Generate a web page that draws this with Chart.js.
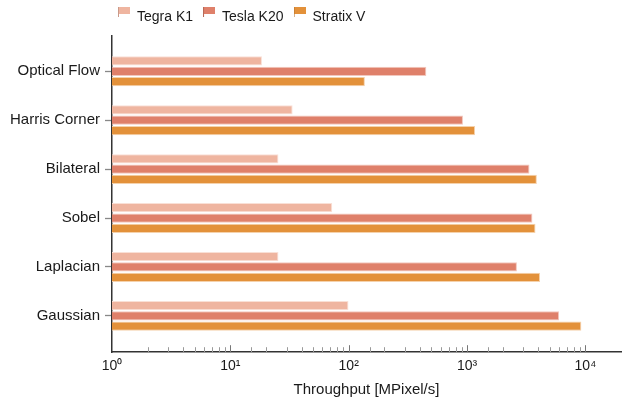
<!DOCTYPE html>
<html>
<head>
<meta charset="utf-8">
<script src="https://cdn.jsdelivr.net/npm/chart.js@4/dist/chart.umd.min.js"></script>
<style>
  html, body { margin: 0; padding: 0; background: #fff; }
  #wrap { width: 641px; height: 399px; }
</style>
</head>
<body>
<div id="wrap"><canvas id="chart" width="641" height="399"></canvas></div>
<script>
// data
const categories = ['Optical Flow', 'Harris Corner', 'Bilateral', 'Sobel', 'Laplacian', 'Gaussian'];
const seriesNames = ['Tegra K1', 'Tesla K20', 'Stratix V'];
const tegraK1 = [18.5, 33.6, 25.5, 72.6, 25.5, 99.6];
const teslaK20 = [453, 924, 3370, 3570, 2640, 6000];
const stratixV = [137, 1170, 3890, 3790, 4140, 9250];
const xTickPowers = [0, 1, 2, 3, 4];

const fills = ['#efb5a0', '#df806a', '#e3913a'];
const edges = ['#f9e0d6', '#f2c7bd', '#f5d2ac'];
const sticks = ['#c99a8a', '#b86a58', '#b87530'];
const sup = ['\u2070', '\u00b9', '\u00b2', '\u00b3', '\u2074'];
const FONT = '"Liberation Sans", Arial, Helvetica, sans-serif';

function flag(color, stick) {
  const c = document.createElement('canvas');
  c.width = 12; c.height = 20;
  const g = c.getContext('2d');
  g.fillStyle = color;
  g.fillRect(0, 0, 12, 7);
  g.fillStyle = stick;
  g.fillRect(0, 0, 1, 10);
  return c;
}
const flags = fills.map((f, i) => flag(f, sticks[i]));

function toPoints(arr) {
  return arr.map((v, i) => ({ x: v, y: i }));
}

// inward tick marks on the log axis, legend nudged up-left
const innerTicks = {
  id: 'innerTicks',
  afterLayout(chart) {
    chart.legend.left -= 4;
    chart.legend.right -= 4;
    chart.legend.top -= 2;
    chart.legend.bottom -= 2;
  },
  afterDraw(chart) {
    const sx = chart.scales.x;
    const ctx = chart.ctx;
    const bottom = chart.chartArea.bottom;
    ctx.save();
    sx.ticks.forEach(t => {
      if (t.value > 10000 || t.value <= 1) return;
      const lg = Math.log10(t.value);
      const major = Math.abs(lg - Math.round(lg)) < 1e-9;
      const x = Math.round(sx.getPixelForValue(t.value)) + 0.5;
      ctx.strokeStyle = major ? '#777' : '#999';
      ctx.lineWidth = 1;
      ctx.beginPath();
      ctx.moveTo(x, bottom);
      ctx.lineTo(x, bottom - (major ? 7 : 5));
      ctx.stroke();
    });
    ctx.restore();
  }
};

new Chart(document.getElementById('chart'), {
  type: 'bar',
  data: {
    datasets: [
      { label: seriesNames[0], data: toPoints(tegraK1), backgroundColor: fills[0], borderColor: edges[0] },
      { label: seriesNames[1], data: toPoints(teslaK20), backgroundColor: fills[1], borderColor: edges[1] },
      { label: seriesNames[2], data: toPoints(stratixV), backgroundColor: fills[2], borderColor: edges[2] }
    ]
  },
  options: {
    indexAxis: 'y',
    responsive: false,
    animation: false,
    layout: { padding: { left: 0, right: 20, top: 2, bottom: 0 } },
    datasets: {
      bar: {
        categoryPercentage: 0.633,
        barPercentage: 0.9,
        borderWidth: 1,
        borderSkipped: 'start'
      }
    },
    scales: {
      y: {
        type: 'linear',
        reverse: true,
        offset: false,
        bounds: 'data',
        min: -0.721,
        max: 5.742,
        afterFit(scale) { scale.width = 112; },
        afterBuildTicks(scale) {
          scale.ticks = categories.map((c, i) => ({ value: i }));
        },
        grid: { display: true, offset: false, drawOnChartArea: false, tickLength: 7, tickColor: '#888', tickWidth: 1.3 },
        border: { display: true, color: '#333', width: 1.5 },
        ticks: {
          autoSkip: false,
          padding: 5,
          color: '#1a1a1a',
          font: { family: FONT, size: 15 },
          callback: (v) => categories[v]
        }
      },
      x: {
        type: 'logarithmic',
        min: 1,
        max: 20000,
        grid: { display: true, drawOnChartArea: false, drawTicks: false },
        border: { display: true, color: '#333', width: 1.5 },
        ticks: {
          autoSkip: false,
          maxRotation: 0,
          padding: 6,
          color: '#1a1a1a',
          font: { family: FONT, size: 14 },
          callback: (v) => {
            const lg = Math.log10(v);
            const p = Math.round(lg);
            if (Math.abs(lg - p) > 1e-9 || xTickPowers.indexOf(p) < 0) return '';
            return '10' + sup[p];
          }
        },
        title: {
          display: true,
          text: 'Throughput [MPixel/s]',
          color: '#1a1a1a',
          font: { family: FONT, size: 15 },
          padding: { top: 0, bottom: 0 }
        }
      }
    },
    plugins: {
      tooltip: { enabled: false },
      legend: {
        position: 'top',
        align: 'start',
        fullSize: false,
        labels: {
          usePointStyle: true,
          boxWidth: 12,
          padding: 10,
          color: '#1a1a1a',
          font: { family: FONT, size: 14 },
          generateLabels(chart) {
            return Chart.defaults.plugins.legend.labels.generateLabels(chart)
              .map((l, i) => Object.assign(l, { pointStyle: flags[i] }));
          }
        }
      }
    }
  },
  plugins: [innerTicks]
});
</script>
</body>
</html>
